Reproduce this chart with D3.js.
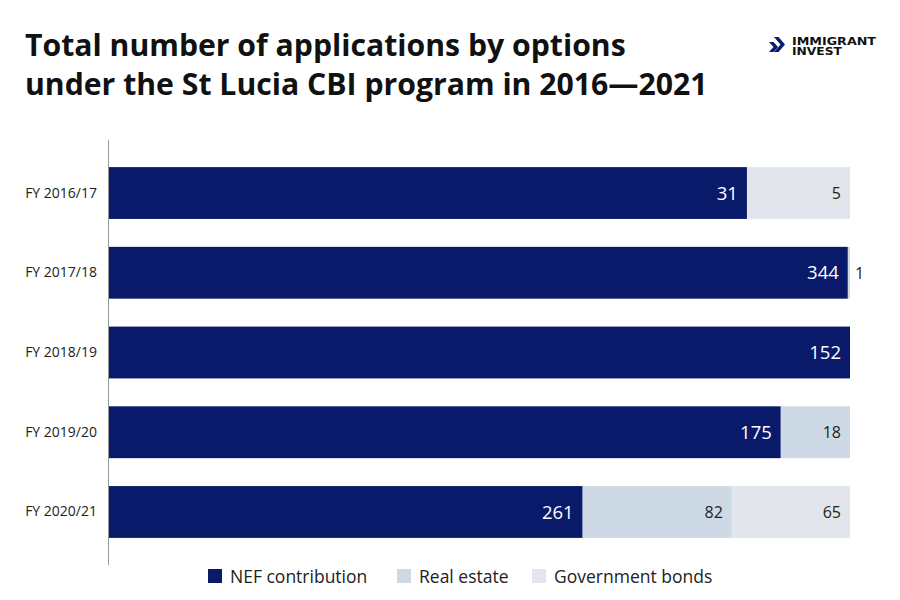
<!DOCTYPE html>
<html><head><meta charset="utf-8">
<script src="https://cdn.jsdelivr.net/npm/d3@7"></script>
<style>body{margin:0;background:#fff;} svg{display:block;}</style>
</head><body>
<svg id="c" width="900" height="600"></svg>
<script>
const categories = ["FY 2016/17","FY 2017/18","FY 2018/19","FY 2019/20","FY 2020/21"];
const seriesNames = ["NEF contribution","Real estate","Government bonds"];
const nef = [31, 344, 152, 175, 261];
const realEstate = [0, 1, 0, 18, 82];
const govBonds = [5, 0, 0, 0, 65];
const colors = ["#0a1a6b", "#cdd9e4", "#e2e6ec"];

const svg = d3.select("#c");
const font = "'Open Sans', Lato, sans-serif";

// Title
const title = svg.append("text").attr("x", 25).attr("font-family", font).attr("font-weight", 700)
  .attr("font-size", 30).attr("fill", "#111");
const t1 = title.append("tspan").attr("x", 25).attr("y", 56).text("Total number of applications by options");
title.append("tspan").attr("x", 25).attr("y", 95).text("under the St Lucia CBI program in 2016\u20142021");
const w1 = t1.node().getComputedTextLength();
title.attr("font-size", 30 * 601 / w1);

// Logo
const logo = svg.append("g").attr("transform", "translate(769,37)");
logo.append("path").attr("d", "M0,5 L4.5,5 L9,10 L4.5,15 L0,15 L4.5,10 Z").attr("fill", "#0a1a6b");
logo.append("path").attr("d", "M5,0 L9.5,0 L16,7.5 L9.5,15 L5,15 L11.5,7.5 Z").attr("fill", "#0a1a6b");
logo.append("text").attr("x", 23).attr("y", 8).attr("font-family", "'DejaVu Sans', sans-serif")
  .attr("font-weight", 700).attr("font-size", 10).attr("fill", "#111")
  .attr("textLength", 84).attr("lengthAdjust", "spacingAndGlyphs").text("IMMIGRANT");
logo.append("text").attr("x", 23).attr("y", 18).attr("font-family", "'DejaVu Sans', sans-serif")
  .attr("font-weight", 700).attr("font-size", 10).attr("fill", "#111")
  .attr("textLength", 50).attr("lengthAdjust", "spacingAndGlyphs").text("INVEST");

const data = categories.map((c, i) => ({cat: c, nef: nef[i], re: realEstate[i], gb: govBonds[i]}));
const keys = ["nef", "re", "gb"];
const stack = d3.stack().keys(keys).offset(d3.stackOffsetExpand);
const series = stack(data);

const x = d3.scaleLinear().domain([0, 1]).range([108, 850]);
const y = d3.scaleBand().domain(categories).range([140, 565]).paddingInner(0.35).paddingOuter(0.34);

const g = svg.append("g");
series.forEach((s, k) => {
  g.selectAll(null).data(s).join("rect")
    .attr("x", d => x(d[0])).attr("y", d => y(d.data.cat))
    .attr("width", d => x(d[1]) - x(d[0])).attr("height", y.bandwidth())
    .attr("fill", colors[k]);
});

// Labels
series.forEach((s, k) => {
  s.forEach(d => {
    const v = d.data[keys[k]];
    if (!v) return;
    const w = x(d[1]) - x(d[0]);
    const inside = w > 30;
    svg.append("text")
      .attr("x", inside ? x(d[1]) - 9 : x(d[1]) + 5)
      .attr("y", y(d.data.cat) + y.bandwidth() / 2)
      .attr("dy", "0.36em")
      .attr("text-anchor", inside ? "end" : "start")
      .attr("font-family", font)
      .attr("font-size", k === 0 ? 18.5 : 16)
      .attr("fill", k === 0 ? "#fff" : "#222")
      .text(v);
  });
});

// Axis
const yAxis = d3.axisLeft(y).tickSize(0).tickPadding(11);
const ag = svg.append("g").attr("transform", "translate(108,0)").call(yAxis);
ag.select(".domain").attr("stroke", "#999").attr("stroke-width", 1).attr("d", "M0.5,140V565");
ag.selectAll("text").attr("font-family", font).attr("font-size", 14).attr("fill", "#222");

// Legend
const legendX = [208, 397, 532];
const lg = svg.append("g");
seriesNames.forEach((n, i) => {
  lg.append("rect").attr("x", legendX[i]).attr("y", 569).attr("width", 14).attr("height", 14).attr("fill", colors[i]);
  lg.append("text").attr("x", legendX[i] + 22).attr("y", 576.5).attr("dy", "0.35em")
    .attr("font-family", font).attr("font-size", 17.5).attr("fill", "#222").text(n);
});
</script>
</body></html>
